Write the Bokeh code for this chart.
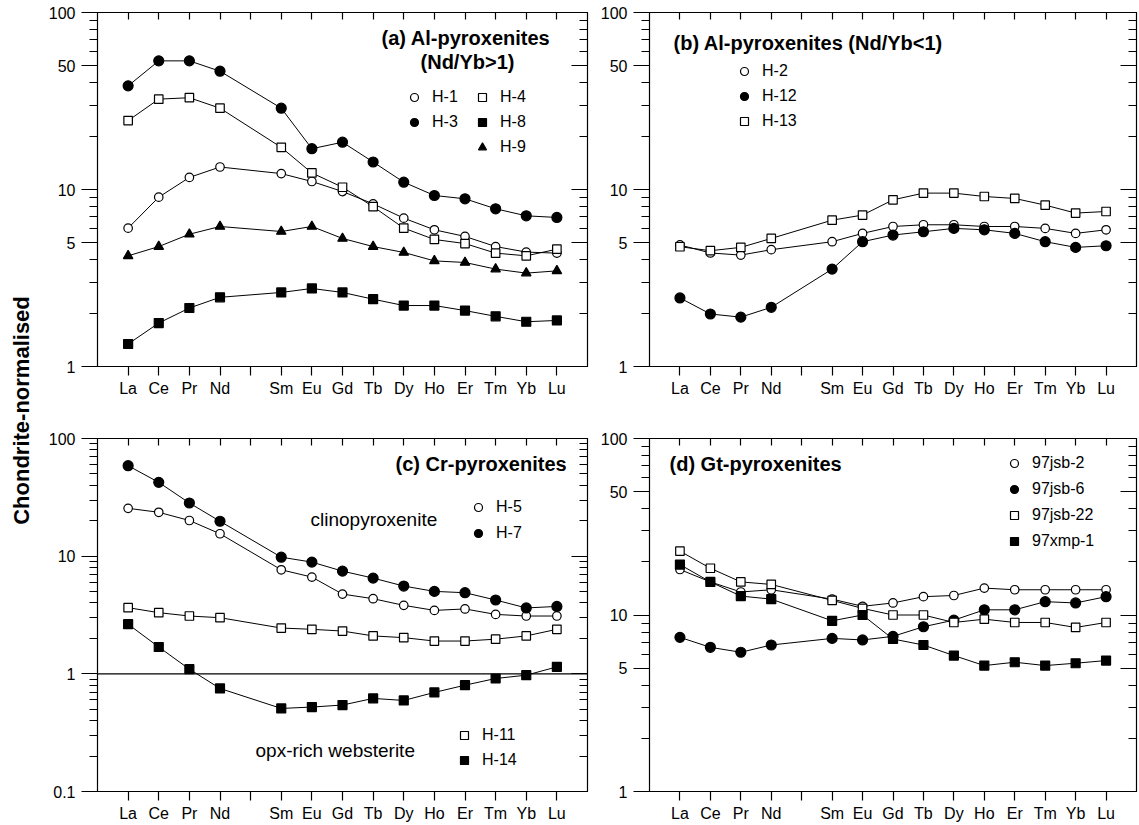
import math
from bokeh.plotting import figure
from bokeh.models import (LogAxis, LinearAxis, FixedTicker, Range1d, Legend, LegendItem,
                          Label, Span, CustomJSTickFormatter)
from bokeh.layouts import row, column
from bokeh.embed import file_html
from bokeh.resources import INLINE

# ---------------- data ----------------
REE_AXIS = ["La", "Ce", "Pr", "Nd", "Pm", "Sm", "Eu", "Gd", "Tb", "Dy", "Ho", "Er", "Tm", "Yb", "Lu"]
REE = ["La", "Ce", "Pr", "Nd", "Sm", "Eu", "Gd", "Tb", "Dy", "Ho", "Er", "Tm", "Yb", "Lu"]

# (a) Al-pyroxenites (Nd/Yb>1)
A_H1 = [6.05, 9.05, 11.7, 13.4, 12.3, 11.1, 9.74, 8.30, 6.89, 5.92, 5.43, 4.76, 4.43, 4.37]
A_H3 = [38.5, 53.3, 53.3, 46.6, 28.8, 17.0, 18.5, 14.3, 11.0, 9.25, 8.86, 7.78, 7.10, 6.95]
A_H4 = [24.5, 32.4, 33.0, 28.8, 17.3, 12.4, 10.3, 8.0, 6.05, 5.22, 4.95, 4.37, 4.22, 4.60]
A_H8 = [1.34, 1.76, 2.14, 2.46, 2.62, 2.76, 2.62, 2.40, 2.21, 2.21, 2.07, 1.92, 1.79, 1.82]
A_H9 = [4.22, 4.76, 5.59, 6.18, 5.79, 6.18, 5.29, 4.76, 4.41, 3.95, 3.87, 3.55, 3.37, 3.47]

# (b) Al-pyroxenites (Nd/Yb<1)
B_H2 = [4.86, 4.38, 4.26, 4.57, 5.07, 5.65, 6.18, 6.32, 6.32, 6.18, 6.18, 6.03, 5.65, 5.92]
B_H12 = [2.44, 1.98, 1.90, 2.16, 3.55, 5.07, 5.53, 5.77, 6.03, 5.92, 5.65, 5.07, 4.71, 4.81]
B_H13 = [4.75, 4.51, 4.71, 5.29, 6.71, 7.17, 8.74, 9.54, 9.54, 9.13, 8.90, 8.16, 7.36, 7.51]

# (c) Cr-pyroxenites
C_H5 = [25.5, 23.6, 20.1, 15.5, 7.66, 6.64, 4.76, 4.35, 3.82, 3.46, 3.56, 3.20, 3.10, 3.10]
C_H7 = [58.7, 42.4, 28.3, 19.8, 9.8, 8.9, 7.46, 6.51, 5.57, 5.02, 4.89, 4.24, 3.63, 3.74]
C_H11 = [3.65, 3.31, 3.10, 3.00, 2.45, 2.39, 2.31, 2.10, 2.03, 1.90, 1.90, 1.97, 2.10, 2.39]
C_H14 = [2.64, 1.69, 1.095, 0.751, 0.508, 0.522, 0.543, 0.618, 0.594, 0.695, 0.801, 0.913, 0.974, 1.146]

# (d) Gt-pyroxenites
D_JSB2 = [18.1, 15.4, 13.5, 13.9, 12.3, 11.2, 11.7, 12.7, 12.9, 14.2, 13.9, 13.9, 13.9, 13.9]
D_JSB6 = [7.47, 6.56, 6.15, 6.76, 7.37, 7.22, 7.57, 8.58, 9.35, 10.7, 10.7, 11.9, 11.7, 12.7]
D_JSB22 = [23.0, 18.4, 15.4, 14.9, 12.1, 10.9, 10.0, 10.0, 9.07, 9.47, 9.07, 9.07, 8.50, 9.07]
D_XMP1 = [19.3, 15.4, 12.8, 12.3, 9.27, 10.0, 7.31, 6.76, 5.89, 5.17, 5.40, 5.17, 5.33, 5.52]

Y_MAJOR = [1, 5, 10, 50, 100]
Y_MINOR = [2, 3, 4, 6, 7, 8, 9, 20, 30, 40, 60, 70, 80, 90]
YC_MAJOR = [0.1, 1, 10, 100]
YC_MINOR = [0.2, 0.3, 0.4, 0.5, 0.6, 0.7, 0.8, 0.9, 2, 3, 4, 5, 6, 7, 8, 9,
            20, 30, 40, 50, 60, 70, 80, 90]

# ---------------- styling ----------------
FONT = "Liberation Sans"
XPOS = [REE_AXIS.index(e) + 1 for e in REE]
XTICKS = list(range(1, len(REE_AXIS) + 1))

STYLES = {
    "open_circle": dict(marker="circle", fill_color="white", size=8.5),
    "filled_circle": dict(marker="circle", fill_color="black", size=10),
    "open_square": dict(marker="square", fill_color="white", size=8.5),
    "filled_square": dict(marker="square", fill_color="black", size=9),
    "triangle": dict(marker="triangle", fill_color="black", size=9.5),
}

FRAME_HEIGHTS = {}


def make_panel(name, bl, fw, br, bt, fh, bb, ymin, ymax, major, minor):
    width = bl + fw + br
    height = bt + fh + bb
    p = figure(width=width, height=height, x_range=Range1d(0, 16), y_range=Range1d(ymin, ymax),
               y_axis_type="log", output_backend="svg", toolbar_location=None,
               min_border_left=bl, min_border_right=br, min_border_top=bt, min_border_bottom=bb,
               outline_line_color="black", outline_line_width=1.2, background_fill_color="white",
               border_fill_color="white")
    FRAME_HEIGHTS[name] = fh
    p.grid.visible = False

    xa = p.xaxis[0]
    xa.ticker = FixedTicker(ticks=XTICKS)
    xa.formatter = CustomJSTickFormatter(args=dict(labels=REE_AXIS),
                                         code="const l = labels[Math.round(tick) - 1]; return (l == 'Pm' || l === undefined) ? '' : l;")
    xa.major_tick_out = 9
    xa.major_tick_in = 0
    xa.minor_tick_out = 0
    xa.minor_tick_in = 0
    xa.major_label_standoff = 4
    xa.major_label_text_font = FONT
    xa.major_label_text_font_size = "16px"
    xa.major_label_text_color = "black"
    xa.axis_line_color = "black"
    xa.major_tick_line_width = 1.2

    ya = p.yaxis[0]
    ya.ticker = FixedTicker(ticks=major, minor_ticks=minor)
    ya.formatter = CustomJSTickFormatter(code="return tick < 1 ? tick.toFixed(1) : tick.toFixed(0);")
    ya.major_tick_out = 16
    ya.major_tick_in = 0
    ya.minor_tick_out = 8
    ya.minor_tick_in = 0
    ya.major_label_standoff = 6
    ya.major_label_text_font = FONT
    ya.major_label_text_font_size = "16px"
    ya.major_label_text_color = "black"
    ya.axis_line_color = "black"
    ya.major_tick_line_width = 1.2
    ya.minor_tick_line_width = 1.2

    top = LinearAxis(ticker=FixedTicker(ticks=XTICKS), major_tick_in=7, major_tick_out=0,
                     minor_tick_in=0, minor_tick_out=0, major_label_text_font_size="0px",
                     major_label_standoff=0, formatter=CustomJSTickFormatter(code="return '';"),
                     major_tick_line_width=1.2)
    p.add_layout(top, "above")
    right = LogAxis(ticker=FixedTicker(ticks=major, minor_ticks=minor), major_tick_in=16,
                    major_tick_out=0, minor_tick_in=8, minor_tick_out=0,
                    major_label_text_font_size="0px", major_label_standoff=0,
                    formatter=CustomJSTickFormatter(code="return '';"),
                    major_tick_line_width=1.2, minor_tick_line_width=1.2)
    p.add_layout(right, "right")
    p.name = name
    return p


def plot_series(p, series):
    for vals, style in series:
        p.line(XPOS, vals, line_color="black", line_width=1)
    rends = []
    for vals, style in series:
        st = STYLES[style]
        r = p.scatter(XPOS, vals, marker=st["marker"], size=st["size"], fill_color=st["fill_color"],
                      line_color="black", line_width=1.2)
        rends.append(r)
    return rends


def add_legend(p, entries, cx, cy_top, pitch):
    fh = FRAME_HEIGHTS[p.name]
    gh = 22
    spacing = pitch - gh
    n = len(entries)
    height = n * gh + (n - 1) * spacing
    vx = cx - 10
    vy = fh - (cy_top - gh / 2 + height)
    leg = Legend(items=[LegendItem(label=l, renderers=[r]) for l, r in entries],
                 location=(vx, vy), orientation="vertical", padding=0, margin=0,
                 spacing=spacing, glyph_width=20, glyph_height=gh, label_height=gh,
                 label_standoff=8, label_text_font=FONT, label_text_font_size="16px",
                 label_text_color="black", border_line_color=None, background_fill_alpha=0)
    p.add_layout(leg)


def add_text(p, text, x, cy, size, bold=False, align="left"):
    fh = FRAME_HEIGHTS[p.name]
    p.add_layout(Label(x=x, y=fh - cy, x_units="screen", y_units="screen", text=text,
                       text_font=FONT, text_font_size=size,
                       text_font_style="bold" if bold else "normal",
                       text_align=align, text_baseline="middle", text_color="black"))


# ---- (a)
pa = make_panel("a", 53, 490, 10, 12, 354, 52, 1, 100, Y_MAJOR, Y_MINOR)
ra = plot_series(pa, [(A_H1, "open_circle"), (A_H3, "filled_circle"), (A_H4, "open_square"),
                      (A_H8, "filled_square"), (A_H9, "triangle")])
add_text(pa, "(a) Al-pyroxenites", 284, 25.5, "20px", bold=True)
add_text(pa, "(Nd/Yb>1)", 370, 49.5, "20px", bold=True, align="center")
add_legend(pa, [("H-1", ra[0]), ("H-3", ra[1])], 317, 84.5, 25)
add_legend(pa, [("H-4", ra[2]), ("H-8", ra[3]), ("H-9", ra[4])], 385, 84.5, 25)

# ---- (b)
pb = make_panel("b", 49, 490, 2, 12, 354, 52, 1, 100, Y_MAJOR, Y_MINOR)
rb = plot_series(pb, [(B_H2, "open_circle"), (B_H12, "filled_circle"), (B_H13, "open_square")])
add_text(pb, "(b) Al-pyroxenites  (Nd/Yb<1)", 24, 30.5, "20px", bold=True)
add_legend(pb, [("H-2", rb[0]), ("H-12", rb[1]), ("H-13", rb[2])], 95, 58.5, 25)

# ---- (c)
pc = make_panel("c", 53, 490, 10, 20, 355, 31, 0.1, 100, YC_MAJOR, YC_MINOR)
pc.add_layout(Span(location=1, dimension="width", line_color="black", line_width=1.2))
rc = plot_series(pc, [(C_H5, "open_circle"), (C_H7, "filled_circle"), (C_H11, "open_square"),
                      (C_H14, "filled_square")])
add_text(pc, "(c) Cr-pyroxenites", 298, 27, "20px", bold=True)
add_text(pc, "clinopyroxenite", 213, 83, "19px")
add_text(pc, "opx-rich websterite", 158, 314, "19px")
add_legend(pc, [("H-5", rc[0]), ("H-7", rc[1])], 381, 71, 26)
add_legend(pc, [("H-11", rc[2]), ("H-14", rc[3])], 367, 299, 25)

# ---- (d)
pd_ = make_panel("d", 49, 490, 2, 20, 355, 31, 1, 100, Y_MAJOR, Y_MINOR)
rd = plot_series(pd_, [(D_JSB2, "open_circle"), (D_JSB6, "filled_circle"), (D_JSB22, "open_square"),
                       (D_XMP1, "filled_square")])
add_text(pd_, "(d) Gt-pyroxenites", 20, 27, "20px", bold=True)
add_legend(pd_, [("97jsb-2", rd[0]), ("97jsb-6", rd[1]), ("97jsb-22", rd[2]), ("97xmp-1", rd[3])],
           365, 27, 26)

# ---- shared y label
TOTAL_H = pa.height + pc.height
pl = figure(width=44, height=TOTAL_H, x_range=Range1d(0, 1), y_range=Range1d(0, 1),
            output_backend="svg", toolbar_location=None, min_border=0,
            x_axis_location=None, y_axis_location=None, outline_line_color=None)
pl.grid.visible = False
pl.add_layout(Label(x=21, y=TOTAL_H - 410, x_units="screen", y_units="screen",
                    text="Chondrite-normalised", angle=math.pi / 2, text_align="center",
                    text_baseline="middle", text_font=FONT, text_font_size="22px",
                    text_font_style="bold", text_color="black"))

layout = row(pl, column(row(pa, pb), row(pc, pd_)))

with open("out.html", "w") as f:
    f.write(file_html(layout, INLINE))
